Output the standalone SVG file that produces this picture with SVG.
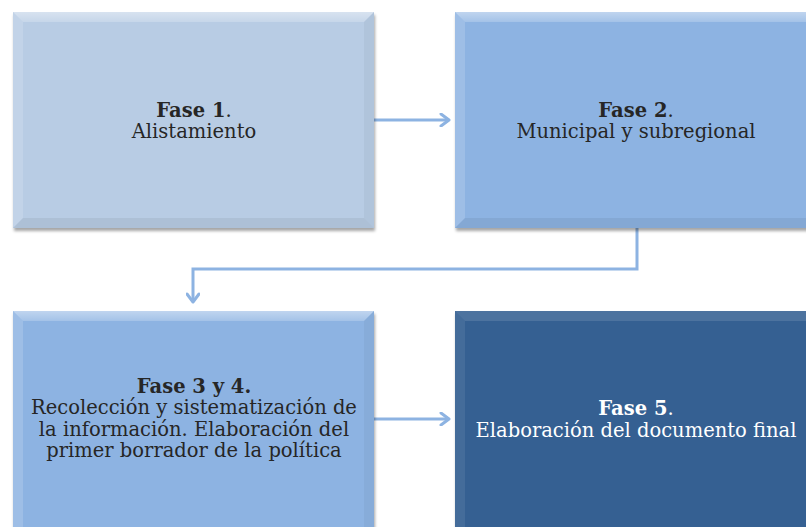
<svg xmlns="http://www.w3.org/2000/svg" width="806" height="527" viewBox="0 0 806 527">
<defs>
<filter id="sh" x="-5%" y="-5%" width="115%" height="115%">
<feDropShadow dx="1" dy="3" stdDeviation="1.5" flood-color="#000" flood-opacity="0.35"/>
</filter>
<marker id="ah" markerWidth="14" markerHeight="14" refX="11" refY="7" orient="auto" markerUnits="userSpaceOnUse">
<path d="M3,1 L11,7 L3,13" fill="none" stroke="#8DB3E2" stroke-width="3" stroke-linecap="round" stroke-linejoin="round"/>
</marker>
<linearGradient id="tg" x1="0" y1="0" x2="0" y2="1">
<stop offset="0" stop-color="#FFFFFF" stop-opacity="0.45"/>
<stop offset="1" stop-color="#FFFFFF" stop-opacity="0.2"/>
</linearGradient>
</defs>
<style>
.t{font-family:"DejaVu Serif","Liberation Serif",serif;font-size:19.5px;fill:#262626;text-anchor:middle}
.b{font-weight:bold}
.w{fill:#FFFFFF}
.hl{fill:url(#tg)}
.hl2{fill:#FFFFFF;opacity:0.15}
.dk{fill:#000000;opacity:0.04}
.dk2{fill:#000000;opacity:0.06}
.c{fill:none;stroke:#8DB3E2;stroke-width:3}
</style>
<rect width="806" height="527" fill="#FFFFFF"/>
<g id="connectors">
<path class="c" d="M374 120 H449" marker-end="url(#ah)"/>
<path class="c" d="M637 228 V269 H193 V302" marker-end="url(#ah)"/>
<path class="c" d="M374 419 H449" marker-end="url(#ah)"/>
</g>
<g id="fase1">
<rect x="13" y="12" width="361" height="216" fill="#B8CCE4" filter="url(#sh)"/>
<polygon class="hl" points="13,12 374,12 364,22 23,22"/>
<polygon class="hl2" points="13,12 23,22 23,218 13,228"/>
<polygon class="dk" points="374,12 374,228 364,218 364,22"/>
<polygon class="dk2" points="13,228 374,228 364,218 23,218"/>
<text class="t" x="194" y="117"><tspan class="b">Fase 1</tspan>.</text>
<text class="t" x="194" y="138">Alistamiento</text>
</g>
<g id="fase2">
<rect x="455" y="12" width="361" height="216" fill="#8DB3E2" filter="url(#sh)"/>
<polygon class="hl" points="455,12 816,12 806,22 465,22"/>
<polygon class="hl2" points="455,12 465,22 465,218 455,228"/>
<polygon class="dk2" points="455,228 816,228 806,218 465,218"/>
<text class="t" x="636" y="117"><tspan class="b">Fase 2</tspan>.</text>
<text class="t" x="636" y="138">Municipal y subregional</text>
</g>
<g id="fase34">
<rect x="13" y="311" width="361" height="230" fill="#8DB3E2" filter="url(#sh)"/>
<polygon class="hl" points="13,311 374,311 364,321 23,321"/>
<polygon class="hl2" points="13,311 23,321 23,541 13,541"/>
<polygon class="dk" points="374,311 374,541 364,541 364,321"/>
<text class="t b" x="194" y="393">Fase 3 y 4.</text>
<text class="t" x="194" y="414">Recolección y sistematización de</text>
<text class="t" x="194" y="436">la información. Elaboración del</text>
<text class="t" x="194" y="457">primer borrador de la política</text>
</g>
<g id="fase5">
<rect x="455" y="311" width="361" height="230" fill="#366092" filter="url(#sh)"/>
<polygon points="455,311 816,311 806,321 465,321" fill="#FFFFFF" opacity="0.12"/>
<polygon points="455,311 465,321 465,541 455,541" fill="#FFFFFF" opacity="0.08"/>
<text class="t w" x="636" y="415"><tspan class="b">Fase 5</tspan>.</text>
<text class="t w" x="636" y="437">Elaboración del documento final</text>
</g>
</svg>
